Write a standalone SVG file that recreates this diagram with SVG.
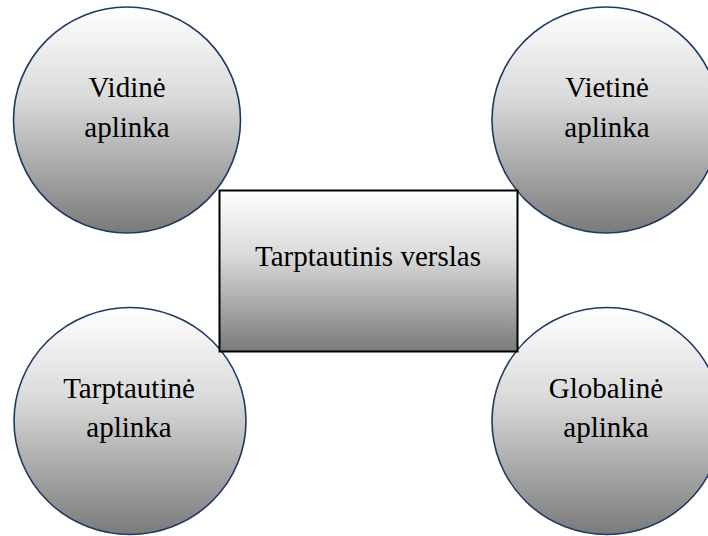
<svg xmlns="http://www.w3.org/2000/svg" width="708" height="536" viewBox="0 0 708 536">
<defs>
<linearGradient id="g" x1="0" y1="0" x2="0" y2="1">
<stop offset="0" stop-color="#ffffff"/>
<stop offset="0.4" stop-color="#dadada"/>
<stop offset="1" stop-color="#7a7a7a"/>
</linearGradient>
</defs>
<style>
.c{fill:url(#g);stroke:#1f3a60;stroke-width:1.6}
.r{fill:url(#g);stroke:#000;stroke-width:2}
text{font-family:"Liberation Serif","Times New Roman",serif;font-size:29px;fill:#000;text-anchor:middle}
</style>
<g id="connectors"></g>
<g id="vidine">
<ellipse class="c" cx="127" cy="120" rx="113.5" ry="113"/>
<text x="127" y="97">Vidinė</text>
<text x="127" y="137">aplinka</text>
</g>
<g id="vietine">
<ellipse class="c" cx="606" cy="120" rx="114" ry="113"/>
<text x="607" y="97">Vietinė</text>
<text x="607" y="137">aplinka</text>
</g>
<g id="tarptautine">
<ellipse class="c" cx="130" cy="421" rx="116" ry="113.5"/>
<text x="129" y="398">Tarptautinė</text>
<text x="129" y="437">aplinka</text>
</g>
<g id="globaline">
<ellipse class="c" cx="607" cy="421" rx="115" ry="113.5"/>
<text x="606" y="398">Globalinė</text>
<text x="606" y="437">aplinka</text>
</g>
<g id="verslas">
<rect class="r" x="219.5" y="190.5" width="298" height="161"/>
<text x="368" y="266">Tarptautinis verslas</text>
</g>
</svg>
